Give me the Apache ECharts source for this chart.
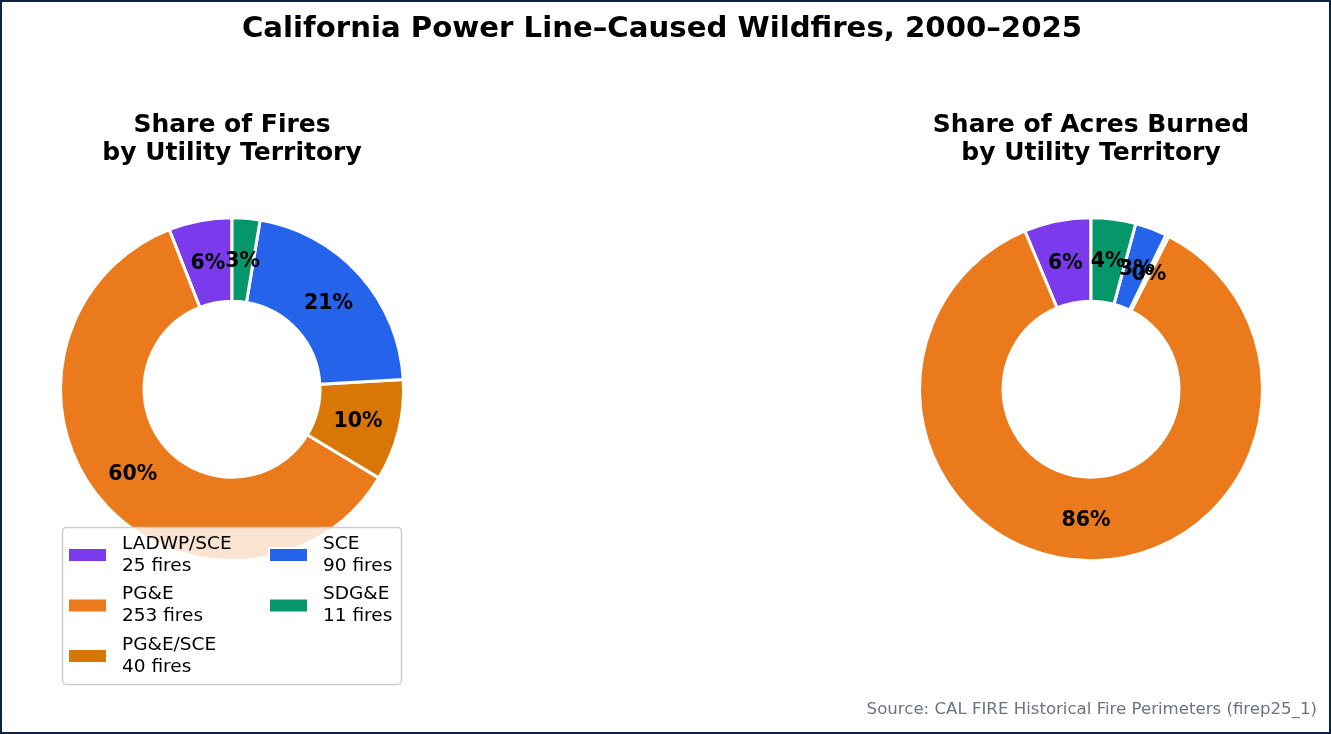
<!DOCTYPE html>
<html>
<head>
<meta charset="utf-8">
<script src="https://cdn.jsdelivr.net/npm/echarts@6/dist/echarts.min.js"></script>
<style>
  html, body { margin: 0; padding: 0; background: #fff; font-family: 'DejaVu Sans'; }
  #chart { position: absolute; left: 0; top: 0; width: 1331px; height: 734px; }
  #frame { position: absolute; left: 0; top: 0; width: 1331px; height: 734px; box-sizing: border-box; border: 2px solid #0d2340; pointer-events: none; }
</style>
</head>
<body>
<div id="chart"></div>
<div id="frame"></div>
<script>
// ---- data ----
const utilities = ['LADWP/SCE', 'PG&E', 'PG&E/SCE', 'SCE', 'SDG&E'];
const fireCounts = [25, 253, 40, 90, 11];
const acresSharePct = [6.3, 86.2, 0.3, 3.0, 4.2];
const palette = ['#7c3aed', '#ea7a1c', '#d97706', '#2563eb', '#059669'];

const mainTitle = 'California Power Line–Caused Wildfires, 2000–2025';
const leftTitle = 'Share of Fires\nby Utility Territory';
const rightTitle = 'Share of Acres Burned\nby Utility Territory';
const sourceText = 'Source: CAL FIRE Historical Fire Perimeters (firep25_1)';

const FONT = 'DejaVu Sans';
const pieCenters = [[232, 389.2], [1091, 389.2]];

const fireData = utilities.map((u, i) => ({ name: u, value: fireCounts[i], itemStyle: { color: palette[i] } }));
const acresData = utilities.map((u, i) => ({ name: u, value: acresSharePct[i], itemStyle: { color: palette[i] } }));
const countByName = {};
utilities.forEach((u, i) => { countByName[u] = fireCounts[i]; });

// pull inside labels back to the exact middle of the ring (ECharts pushes them 3px outward)
function labelPull(params) {
  const c = pieCenters[params.seriesIndex];
  const r = params.labelRect;
  const lx = r.x + r.width / 2, ly = r.y + r.height / 2;
  const vx = lx - c[0], vy = ly - c[1];
  const d = Math.sqrt(vx * vx + vy * vy) || 1;
  return { x: lx - 3 * vx / d, y: ly - 3 * vy / d + 1.5, hideOverlap: false };
}

function pieSeries(data, idx) {
  return {
    type: 'pie',
    center: pieCenters[idx],
    radius: [88, 171.5],
    startAngle: 90,
    clockwise: false,
    minShowLabelAngle: 0,
    avoidLabelOverlap: false,
    labelLayout: labelPull,
    data: data,
    itemStyle: { borderColor: '#ffffff', borderWidth: 3 },
    label: {
      show: true,
      position: 'inside',
      formatter: p => Math.round(p.percent) + '%',
      color: '#000',
      fontFamily: FONT,
      fontWeight: 'bold',
      fontSize: 20.5
    },
    labelLine: { show: false },
    emphasis: { scale: false, disabled: true },
    z: 2
  };
}

function legendCfg(names, left) {
  return {
    data: names,
    orient: 'vertical',
    left: left,
    top: 533,
    padding: 0,
    itemGap: 6.5,
    itemWidth: 39,
    itemHeight: 14,
    icon: 'rect',
    selectedMode: false,
    z: 20,
    formatter: n => n + '\n' + countByName[n] + ' fires',
    textStyle: { fontFamily: FONT, fontSize: 18.5, lineHeight: 22, color: '#000', padding: [0, 0, 0, 10] }
  };
}

const chart = echarts.init(document.getElementById('chart'), null, { renderer: 'canvas' });
chart.setOption({
  animation: false,
  backgroundColor: '#ffffff',
  legend: [
    legendCfg(utilities.slice(0, 3), 67),
    legendCfg(utilities.slice(3), 268)
  ],
  graphic: [
    { type: 'text', x: 662, y: 29, z: 10,
      style: { text: mainTitle, fontFamily: FONT, fontWeight: 'bold', fontSize: 29.2, fill: '#000', align: 'center', verticalAlign: 'middle' } },
    { type: 'text', x: 232, y: 139, z: 10,
      style: { text: leftTitle, fontFamily: FONT, fontWeight: 'bold', fontSize: 25, fill: '#000', align: 'center', verticalAlign: 'middle', lineHeight: 28 } },
    { type: 'text', x: 1091, y: 139, z: 10,
      style: { text: rightTitle, fontFamily: FONT, fontWeight: 'bold', fontSize: 25, fill: '#000', align: 'center', verticalAlign: 'middle', lineHeight: 28 } },
    { type: 'text', x: 1317, y: 710, z: 10,
      style: { text: sourceText, fontFamily: FONT, fontSize: 16.6, fill: '#6b7280', align: 'right', verticalAlign: 'middle' } },
    { type: 'rect', z: 15,
      shape: { x: 62.5, y: 527.5, width: 339, height: 157, r: 4 },
      style: { fill: 'rgba(255,255,255,0.8)', stroke: '#cccccc', lineWidth: 1.5 } }
  ],
  series: [
    pieSeries(fireData, 0),
    pieSeries(acresData, 1)
  ]
});
</script>
</body>
</html>
